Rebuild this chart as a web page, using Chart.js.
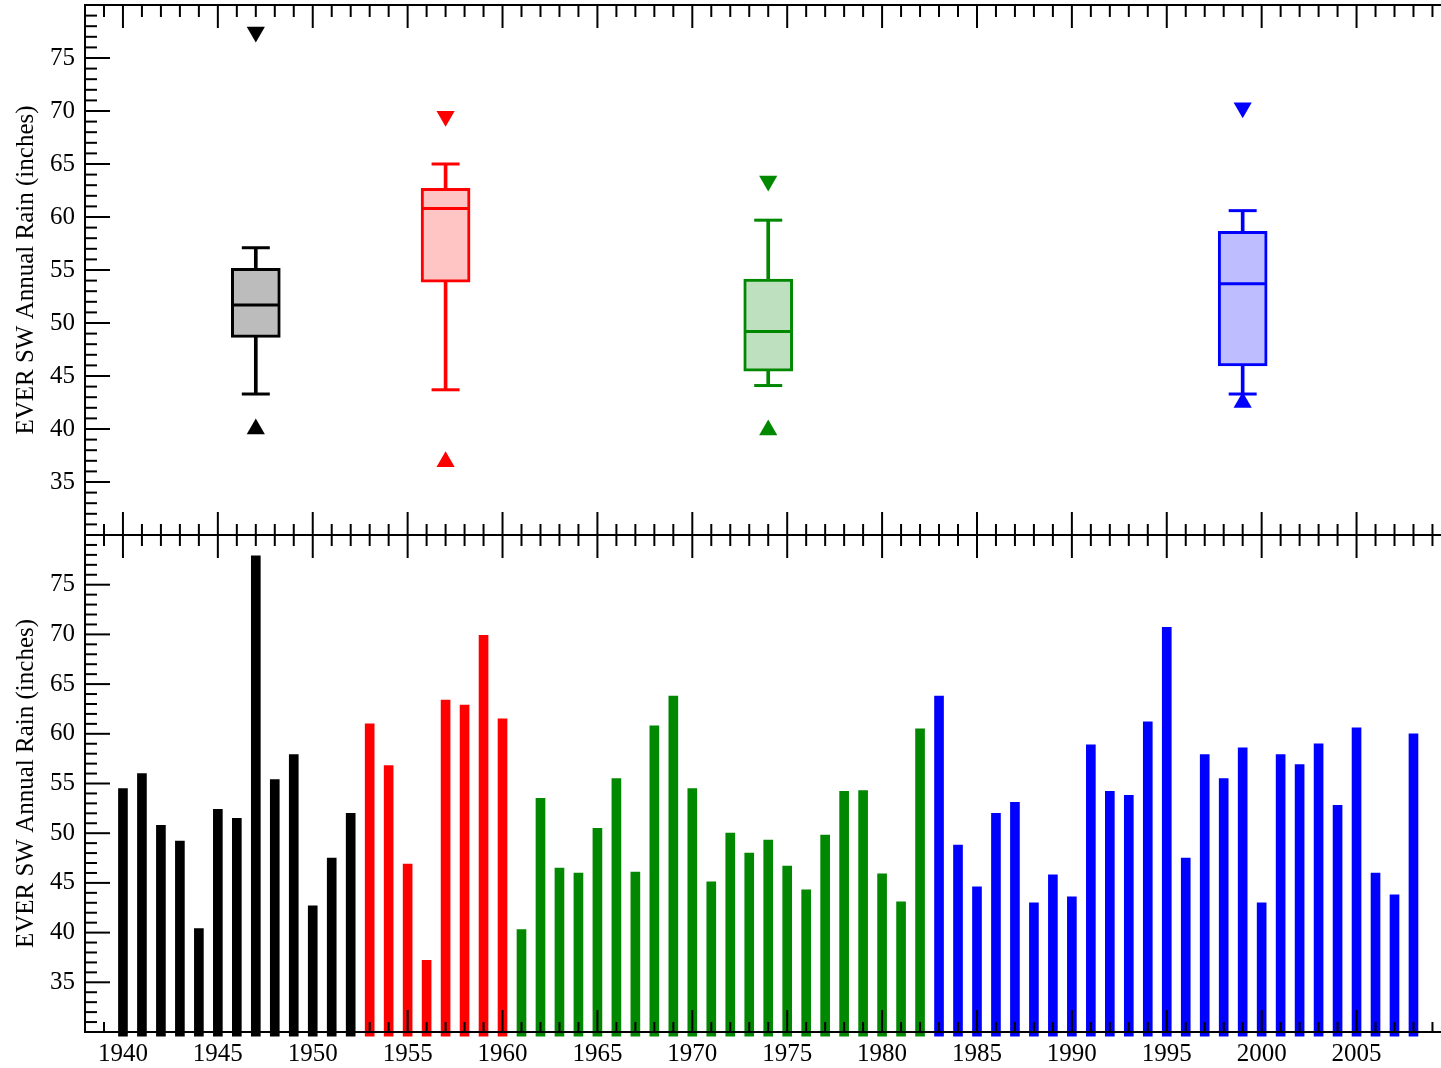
<!DOCTYPE html>
<html>
<head>
<meta charset="utf-8">
<script src="https://cdn.jsdelivr.net/npm/chart.js@4/dist/chart.umd.min.js"></script>
<style>
html,body{margin:0;padding:0;background:#fff;overflow:hidden;width:1441px;height:1068px;}
#topChart{position:absolute;left:0;top:0;}
#bottomChart{position:absolute;left:0;top:535px;}
</style>
</head>
<body>
<canvas id="topChart" width="1441" height="560"></canvas>
<canvas id="bottomChart" width="1441" height="533"></canvas>
<script>
// ---------- data ----------
const years = [1940,1941,1942,1943,1944,1945,1946,1947,1948,1949,
               1950,1951,1952,1953,1954,1955,1956,1957,1958,1959,
               1960,1961,1962,1963,1964,1965,1966,1967,1968,1969,
               1970,1971,1972,1973,1974,1975,1976,1977,1978,1979,
               1980,1981,1982,1983,1984,1985,1986,1987,1988,1989,
               1990,1991,1992,1993,1994,1995,1996,1997,1998,1999,
               2000,2001,2002,2003,2004,2005,2006,2007,2008];
const rain = [54.5,56.0,50.8,49.2,40.4,52.4,51.5,77.9,55.4,57.9,
              42.7,47.5,52.0,61.0,56.8,46.9,37.2,63.4,62.9,69.9,
              61.5,40.3,53.5,46.5,46.0,50.5,55.5,46.1,60.8,63.8,
              54.5,45.1,50.0,48.0,49.3,46.7,44.3,49.8,54.2,54.3,
              45.9,43.1,60.5,63.8,48.8,44.6,52.0,53.1,43.0,45.8,
              43.6,58.9,54.2,53.8,61.2,70.7,47.5,57.9,55.5,58.6,
              43.0,57.9,56.9,59.0,52.8,60.6,46.0,43.8,60.0];

const eraStart  = [1940, 1953, 1961, 1983];
const eraEnd    = [1952, 1960, 1982, 2008];
const eraColors = ['#000000', '#ff0000', '#008800', '#0000ff'];
const eraFills  = ['#bcbcbc', '#ffc4c4', '#bfe0bf', '#bdbdff'];

// box-plot statistics per era
const boxYears    = [1947, 1957, 1974, 1999];
const whiskerLow  = [43.3, 43.7, 44.1, 43.3];
const boxLow      = [48.65, 53.85, 45.45, 45.95];
const boxMedian   = [51.7, 60.8, 49.2, 53.7];
const boxHigh     = [55.15, 62.7, 54.15, 58.65];
const whiskerHigh = [57.1, 65.0, 59.7, 60.6];
const maxMarker   = [77.45, 69.5, 63.4, 70.3];
const minMarker   = [40.0, 36.9, 39.9, 42.5];

const yTickValues = [35, 40, 45, 50, 55, 60, 65, 70, 75];
const xTickValues = [1940, 1945, 1950, 1955, 1960, 1965, 1970, 1975, 1980, 1985, 1990, 1995, 2000, 2005];
const yTitle = 'EVER SW Annual Rain (inches)';

// ---------- helpers ----------
const FONT = {family: "'Liberation Serif', 'Times New Roman', serif", size: 25};
const eraOf = yr => eraStart.findIndex((s, i) => yr >= s && yr <= eraEnd[i]);
const barColors = years.map(yr => eraColors[eraOf(yr)]);

const frameTicks = {
  id: 'frameTicks',
  afterDatasetsDraw(chart, args, opts) {
    const {ctx, chartArea: ca, scales: {x, y}} = chart;
    ctx.save();
    ctx.strokeStyle = '#000';
    ctx.lineWidth = 2;
    ctx.lineCap = 'butt';
    const line = (x1, y1, x2, y2) => { ctx.beginPath(); ctx.moveTo(x1, y1); ctx.lineTo(x2, y2); ctx.stroke(); };
    // left axis
    line(ca.left, ca.top - 1, ca.left, ca.bottom + 1);
    // y ticks (inward)
    for (let v = Math.ceil(y.min); v <= y.max; v++) {
      const py = y.getPixelForValue(v);
      line(ca.left, py, ca.left + (v % 5 === 0 ? 25 : 12), py);
    }
    // horizontal edges with x ticks
    (opts.edges || []).forEach(e => {
      const ey = e.pos === 'top' ? ca.top : ca.bottom;
      line(ca.left, ey, chart.width, ey);
      for (let v = Math.ceil(x.min); v <= x.max; v++) {
        const px = x.getPixelForValue(v);
        const major = v % 5 === 0;
        const up = major ? e.up[1] : e.up[0];
        const down = major ? e.down[1] : e.down[0];
        if (up || down) line(px, ey - up, px, ey + down);
      }
    });
    ctx.restore();
  }
};

const yAxis = (extra) => Object.assign({
  type: 'linear', min: 30, max: 80, position: 'left',
  afterBuildTicks: s => { s.ticks = yTickValues.map(v => ({value: v})); },
  afterFit: s => { s.width = 85; s.paddingTop = 0; s.paddingBottom = 0; },
  grid: {display: false, drawTicks: false},
  border: {display: false},
  ticks: {font: FONT, color: '#000', padding: 10, callback: v => String(v)},
  title: {display: true, text: yTitle, font: FONT, color: '#000', padding: {top: 11, bottom: 0}}
}, extra || {});

// ---------- upper panel: box plots ----------
const pts = arr => boxYears.map((x, i) => ({x, y: arr[i]}));
new Chart(document.getElementById('topChart'), {
  type: 'bar',
  data: {
    datasets: [
      { // whisker stems
        type: 'bar', order: 6, grouped: false,
        data: boxYears.map((x, i) => ({x, y: [whiskerLow[i], whiskerHigh[i]]})),
        backgroundColor: eraColors, borderWidth: 0, barThickness: 3
      },
      { // boxes
        type: 'bar', order: 5, grouped: false,
        data: boxYears.map((x, i) => ({x, y: [boxLow[i], boxHigh[i]]})),
        backgroundColor: eraFills, borderColor: eraColors, borderWidth: 3,
        borderSkipped: false, barThickness: 49
      },
      { // medians
        type: 'scatter', order: 1, showLine: false,
        data: pts(boxMedian),
        pointStyle: 'line', pointRadius: 23, pointBorderWidth: 3,
        pointBorderColor: eraColors, pointBackgroundColor: eraColors
      },
      { // whisker caps
        type: 'scatter', order: 1, showLine: false,
        data: pts(whiskerLow).concat(pts(whiskerHigh)),
        pointStyle: 'line', pointRadius: 14, pointBorderWidth: 3,
        pointBorderColor: eraColors.concat(eraColors), pointBackgroundColor: eraColors.concat(eraColors)
      },
      { // maximum markers
        type: 'scatter', order: 1, showLine: false,
        data: pts(maxMarker),
        pointStyle: 'triangle', pointRotation: 180, pointRadius: 10.5, pointBorderWidth: 0,
        pointBackgroundColor: eraColors, pointBorderColor: eraColors
      },
      { // minimum markers
        type: 'scatter', order: 1, showLine: false,
        data: pts(minMarker),
        pointStyle: 'triangle', pointRotation: 0, pointRadius: 10.5, pointBorderWidth: 0,
        pointBackgroundColor: eraColors, pointBorderColor: eraColors
      }
    ]
  },
  options: {
    responsive: false, animation: false,
    layout: {autoPadding: false, padding: {top: 5, bottom: 25, left: 0, right: 0}},
    plugins: {
      legend: {display: false}, tooltip: {enabled: false},
      frameTicks: {edges: [
        {pos: 'top', up: [0, 0], down: [12, 23]},
        {pos: 'bottom', up: [11, 23], down: [11, 23]}
      ]}
    },
    scales: {
      x: {type: 'linear', min: 1938, max: 2009.45, offset: false, display: false},
      y: yAxis()
    }
  },
  plugins: [frameTicks]
});

// ---------- lower panel: annual bars ----------
new Chart(document.getElementById('bottomChart'), {
  type: 'bar',
  data: {
    datasets: [{
      data: years.map((yr, i) => ({x: yr, y: rain[i]})),
      backgroundColor: barColors, borderWidth: 0, barThickness: 9,
      base: 0, clip: {left: 0, top: 0, right: 0, bottom: 4.5}
    }]
  },
  options: {
    responsive: false, animation: false,
    layout: {autoPadding: false, padding: {top: 0, bottom: 0, left: 0, right: 0}},
    plugins: {
      legend: {display: false}, tooltip: {enabled: false},
      frameTicks: {edges: [
        {pos: 'bottom', up: [10, 22], down: [0, 0]}
      ]}
    },
    scales: {
      x: {
        type: 'linear', min: 1938, max: 2009.45, offset: false, position: 'bottom',
        afterBuildTicks: s => { s.ticks = xTickValues.map(v => ({value: v})); },
        afterFit: s => { s.height = 36; s.paddingLeft = 0; s.paddingRight = 0; },
        grid: {display: false, drawTicks: false},
        border: {display: false},
        ticks: {font: FONT, color: '#000', padding: 7, autoSkip: false, maxRotation: 0, callback: v => String(v)}
      },
      y: yAxis()
    }
  },
  plugins: [frameTicks]
});
</script>
</body>
</html>
